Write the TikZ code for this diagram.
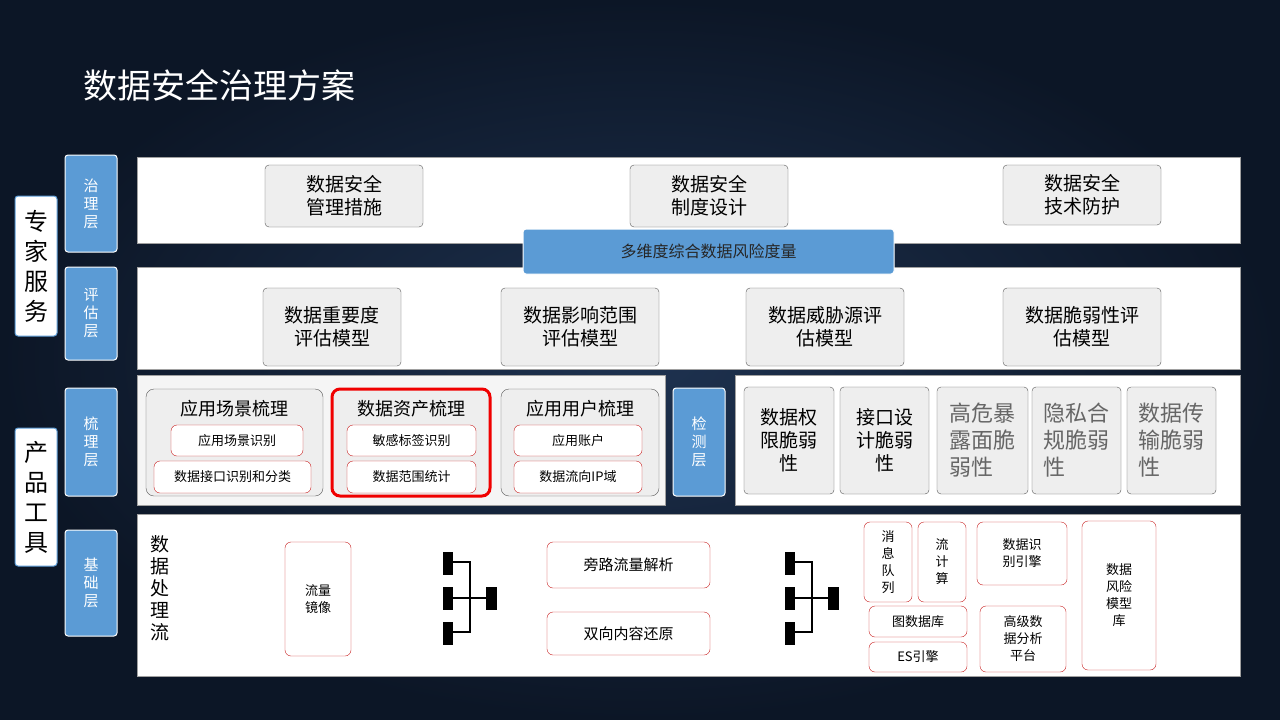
\documentclass[tikz,border=0pt]{standalone}
\usepackage{fontspec}
\setmainfont{Noto Sans CJK SC}
\definecolor{bgdark}{RGB}{12,22,38}
\definecolor{bgmid}{RGB}{30,50,80}
\definecolor{lblue}{RGB}{91,155,213}
\definecolor{pgray}{RGB}{160,160,160}
\definecolor{bgray}{RGB}{90,90,90}
\definecolor{fgray}{RGB}{238,238,238}
\definecolor{pfill}{RGB}{245,245,245}
\definecolor{rline}{RGB}{200,30,30}
\definecolor{bred}{RGB}{240,0,0}
\begin{document}
\begin{tikzpicture}[x=1pt,y=-1pt,
  bluelab/.style={draw=white,line width=1pt,fill=lblue,rounded corners=3pt,text=white,font=\fontsize{15}{18}\selectfont,align=center,inner sep=0pt},
  panel/.style={draw=pgray,fill=white,inner sep=0pt},
  graybox/.style={draw=bgray,fill=fgray,rounded corners=4pt,align=center,inner sep=0pt,font=\fontsize{19}{23}\selectfont},
  redbox/.style={draw=rline,fill=white,rounded corners=6pt,align=center,inner sep=0pt,font=\fontsize{13}{17}\selectfont},
  side/.style={draw=lblue,fill=white,line width=1pt,rounded corners=3pt,align=center,inner sep=0pt,font=\fontsize{24}{30}\selectfont}
]
\def\bx#1#2#3#4#5#6#7{\node[#1,minimum width={#4-#2},minimum height={#5-#3}] (#6) at ({(#2+#4)/2},{(#3+#5)/2}) {#7};}
\fill[bgdark] (0,0) rectangle (1280,720);
\shade[inner color=bgmid,outer color=bgdark] (0,0) rectangle (1280,720);
\useasboundingbox (0,0) rectangle (1280,720);
\node[anchor=west,text=white,font=\fontsize{34}{40}\selectfont] (title) at (80,85) {数据安全治理方案};
\bx{side}{15}{196}{57}{336}{zj}{专\\家\\服\\务}
\bx{side}{15}{428}{57}{566}{cp}{产\\品\\工\\具}
\bx{bluelab}{65}{155}{117}{252}{l1}{治\\理\\层}
\bx{bluelab}{65}{267}{117}{360}{l2}{评\\估\\层}
\bx{bluelab}{65}{388}{117}{496}{l3}{梳\\理\\层}
\bx{bluelab}{65}{530}{117}{636}{l4}{基\\础\\层}
\bx{panel}{137}{157}{1240}{243}{p1}{}
\bx{panel}{137}{267}{1240}{369}{p2}{}
\node[panel,fill=pfill,minimum width=528,minimum height=130] (p3) at (401,440) {};
\bx{bluelab}{673}{388}{725}{496}{jc}{检\\测\\层}
\bx{panel}{735}{375}{1240}{505}{p3b}{}
\bx{panel}{137}{514}{1240}{676}{p4}{}
% row1
\bx{graybox}{265}{165}{423}{227}{a1}{数据安全\\管理措施}
\bx{graybox}{630}{165}{788}{227}{a2}{数据安全\\制度设计}
\bx{graybox}{1003}{165}{1161}{225}{a3}{数据安全\\技术防护}
\bx{bluelab}{523}{229}{894}{274}{bar}{\color{black!85}\fontsize{16}{20}\selectfont 多维度综合数据风险度量}
% row2
\bx{graybox}{263}{288}{401}{366}{b1}{数据重要度\\评估模型}
\bx{graybox}{501}{288}{659}{366}{b2}{数据影响范围\\评估模型}
\bx{graybox}{746}{288}{904}{366}{b3}{数据威胁源评\\估模型}
\bx{graybox}{1003}{288}{1161}{366}{b4}{数据脆弱性评\\估模型}
% row3 left
\node[graybox,minimum width=177,minimum height=107,rounded corners=8pt] (g1) at (234.5,442.5) {};
\node[graybox,draw=bred,line width=3pt,rounded corners=8pt,minimum width=158,minimum height=107] (g2) at (411,442.5) {};
\node[graybox,minimum width=158,minimum height=107,rounded corners=8pt] (g3) at (580,442.5) {};
\node[font=\fontsize{18}{22}\selectfont] (g1t) at (234.5,409) {应用场景梳理};
\node[font=\fontsize{18}{22}\selectfont] (g2t) at (411,409) {数据资产梳理};
\node[font=\fontsize{18}{22}\selectfont] (g3t) at (580,409) {应用用户梳理};
\bx{redbox}{171}{425}{303}{456}{c1}{应用场景识别}
\bx{redbox}{154}{461}{311}{493}{c2}{数据接口识别和分类}
\bx{redbox}{347}{425}{476}{456}{c3}{敏感标签识别}
\bx{redbox}{347}{461}{476}{493}{c4}{数据范围统计}
\bx{redbox}{514}{425}{642}{456}{c5}{应用账户}
\bx{redbox}{514}{461}{642}{493}{c6}{数据流向IP域}
% row3 right
\bx{graybox}{744}{387}{834}{494}{d1}{数据权\\限脆弱\\性}
\bx{graybox}{840}{387}{929}{494}{d2}{接口设\\计脆弱\\性}
\bx{graybox,text=black!60,align=left,font=\fontsize{22}{27}\selectfont}{937}{387}{1028}{494}{d3}{高危暴\\露面脆\\弱性}
\bx{graybox,text=black!60,align=left,font=\fontsize{22}{27}\selectfont}{1032}{387}{1121}{494}{d4}{隐私合\\规脆弱\\性}
\bx{graybox,text=black!60,align=left,font=\fontsize{22}{27}\selectfont}{1127}{387}{1216}{494}{d5}{数据传\\输脆弱\\性}
% row4
\node[align=center,font=\fontsize{19}{22}\selectfont] (flow) at (160,588) {数\\据\\处\\理\\流};
\bx{redbox}{285}{542}{351}{656}{e1}{流量\\镜像}
\bx{redbox}{547}{542}{710}{588}{e2}{\fontsize{15}{18}\selectfont 旁路流量解析}
\bx{redbox}{547}{612}{710}{655}{e3}{\fontsize{15}{18}\selectfont 双向内容还原}
\bx{redbox}{864}{522}{912}{602}{f1}{消\\息\\队\\列}
\bx{redbox}{918}{522}{966}{602}{f2}{流\\计\\算}
\bx{redbox}{869}{606}{967}{637}{f3}{图数据库}
\bx{redbox}{869}{642}{967}{672}{f4}{ES引擎}
\bx{redbox}{977}{522}{1067}{585}{f5}{数据识\\别引擎}
\bx{redbox}{980}{606}{1066}{672}{f6}{高级数\\据分析\\平台}
\bx{redbox}{1082}{521}{1156}{670}{f7}{数据\\风险\\模型\\库}
% icons
\foreach \ox in {443,785}{
  \fill (\ox,552) rectangle +(10,23);
  \fill (\ox,587) rectangle +(10,23);
  \fill (\ox,622) rectangle +(10,23);
  \fill (\ox+43,587) rectangle +(11,23);
  \draw[line width=2.5pt] (\ox+10,562) -- (\ox+27,562) -- (\ox+27,632) -- (\ox+10,632);
  \draw[line width=2.5pt] (\ox+10,598) -- (\ox+43,598);
}
\end{tikzpicture}
\end{document}
